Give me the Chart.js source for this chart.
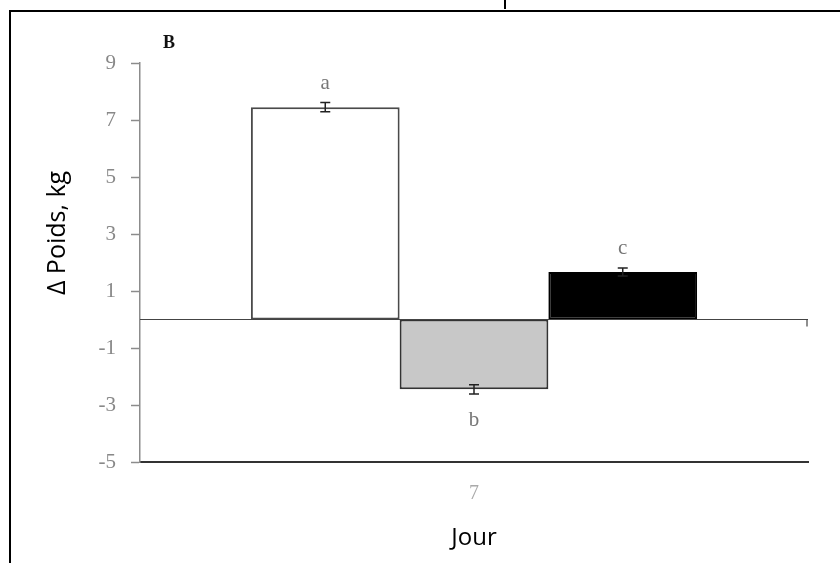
<!DOCTYPE html>
<html>
<head>
<meta charset="utf-8">
<script src="https://cdn.jsdelivr.net/npm/chart.js@4/dist/chart.umd.min.js"></script>
<style>
    html, body { margin: 0; padding: 0; background: #fff; }
    #wrap { position: relative; width: 840px; height: 563px; overflow: hidden; }
    #frame { position: absolute; left: 9px; top: 10px; width: 840px; height: 563px; border-top: 2px solid #000; border-left: 2px solid #000; pointer-events: none; }
    #stem { position: absolute; left: 504px; top: 0; width: 2px; height: 9px; background: #000; }
</style>
</head>
<body>
<div id="wrap">
    <canvas id="chart" width="840" height="563"></canvas>
    <div id="frame"></div>
    <div id="stem"></div>
</div>
<script>
    // ---- data ----
    const categories = ['7'];
    const seriesNames = ['Groupe 1', 'Groupe 2', 'Groupe 3'];
    const meanValues = [7.45, -2.45, 1.67];
    const errorValues = [0.16, 0.16, 0.14];
    const letterLabels = ['a', 'b', 'c'];
    const yTitle = 'Δ Poids, kg';

    const barFill = ['#ffffff', '#c8c8c8', '#000000'];
    const barEdge = ['#4a4a4a', '#333333', '#000000'];

    // error bars + significance letters + zero line + panel letter + y title
    const extrasPlugin = {
        id: 'extras',
        afterDatasetsDraw(chart) {
            const ctx = chart.ctx;
            const y = chart.scales.y;
            const area = chart.chartArea;
            ctx.save();

            // zero line with small tick at the right end
            const y0 = y.getPixelForValue(0);
            ctx.strokeStyle = '#444';
            ctx.lineWidth = 1.2;
            ctx.beginPath();
            ctx.moveTo(area.left, y0);
            ctx.lineTo(area.right, y0);
            ctx.moveTo(area.right - 1, y0);
            ctx.lineTo(area.right - 1, y0 + 7);
            ctx.stroke();

            chart.data.datasets.forEach((ds, i) => {
                const bar = chart.getDatasetMeta(i).data[0];
                const v = ds.data[0];
                const e = errorValues[i];
                const yHi = y.getPixelForValue(v + e);
                const yLo = y.getPixelForValue(v - e);
                ctx.strokeStyle = '#222';
                ctx.lineWidth = 1.5;
                ctx.beginPath();
                ctx.moveTo(bar.x, yHi); ctx.lineTo(bar.x, yLo);
                ctx.moveTo(bar.x - 5, yHi); ctx.lineTo(bar.x + 5, yHi);
                ctx.moveTo(bar.x - 5, yLo); ctx.lineTo(bar.x + 5, yLo);
                ctx.stroke();

                ctx.fillStyle = '#777';
                ctx.font = '21px "Liberation Serif", "DejaVu Serif", serif';
                ctx.textAlign = 'center';
                ctx.textBaseline = 'middle';
                if (v >= 0) ctx.fillText(letterLabels[i], bar.x, yHi - 19);
                else ctx.fillText(letterLabels[i], bar.x, yLo + 27);
            });

            ctx.fillStyle = '#111';
            ctx.font = 'bold 18px "Liberation Serif", serif';
            ctx.textAlign = 'center';
            ctx.textBaseline = 'middle';
            ctx.fillText('B', 169, 43);

            // y axis title, sits a bit above the plot centre in the original
            ctx.translate(58, 233);
            ctx.rotate(-Math.PI / 2);
            ctx.fillStyle = '#000';
            ctx.font = '25px "Open Sans", sans-serif';
            ctx.fillText(yTitle, 0, 0);
            ctx.restore();
        }
    };

    const datasets = meanValues.map((v, i) => ({
        label: seriesNames[i],
        data: [v],
        backgroundColor: barFill[i],
        borderColor: barEdge[i],
        borderWidth: 2,
        borderSkipped: false,
        categoryPercentage: 0.668,
        barPercentage: 1.0
    }));

    new Chart(document.getElementById('chart').getContext('2d'), {
        type: 'bar',
        data: { labels: categories, datasets },
        plugins: [extrasPlugin],
        options: {
            responsive: false,
            animation: false,
            layout: { padding: { top: 63, right: 32, left: 0, bottom: 0 } },
            plugins: { legend: { display: false }, tooltip: { enabled: false } },
            scales: {
                x: {
                    grid: { display: false, drawTicks: false },
                    border: { color: '#333', width: 2 },
                    ticks: { color: '#aaa', padding: 20, font: { family: '"Liberation Serif", serif', size: 20 } },
                    title: { display: true, text: 'Jour', color: '#000', padding: { top: 0, bottom: 10 },
                             font: { family: '"Open Sans", sans-serif', size: 24 } },
                    afterFit(scale) { scale.height = 101; }
                },
                y: {
                    min: -5, max: 9,
                    ticks: { stepSize: 2, color: '#888', padding: 15, font: { family: '"Liberation Serif", serif', size: 21 } },
                    grid: { drawOnChartArea: false, tickLength: 9, tickColor: '#8c8c8c', tickWidth: 1.5 },
                    border: { color: '#8c8c8c', width: 1.5 },
                    afterFit(scale) { scale.width = 140; }
                }
            }
        }
    });
</script>
</body>
</html>
